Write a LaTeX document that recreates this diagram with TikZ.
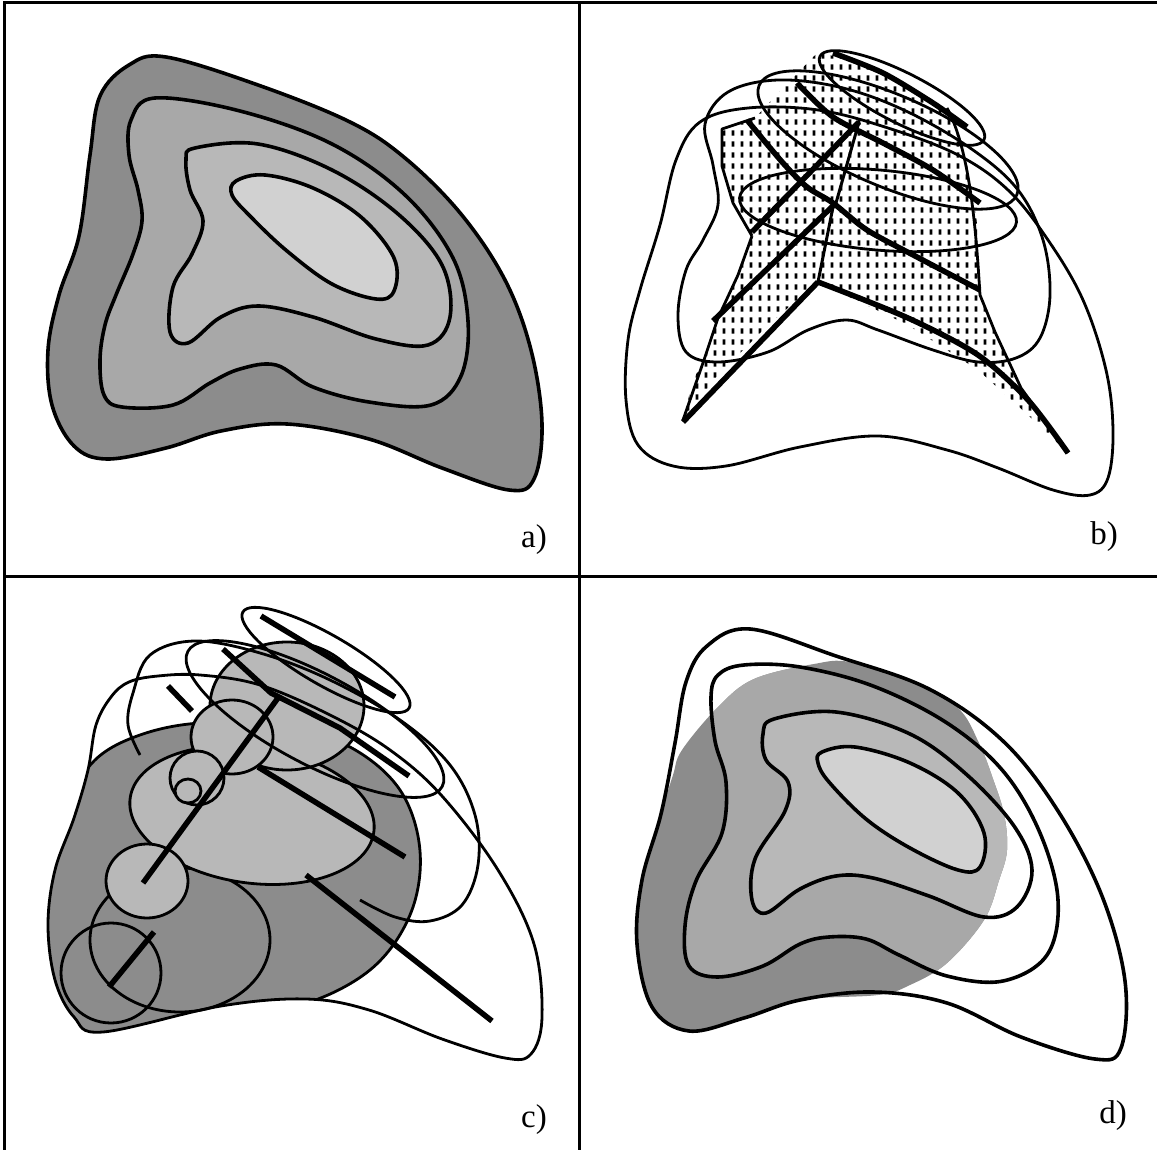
\documentclass[tikz,border=0pt]{standalone}
\usepackage{fontspec}
\setmainfont{Liberation Serif}
\usetikzlibrary{patterns}
\pgfdeclarepatternformonly{vdash}{\pgfpointorigin}{\pgfpoint{9pt}{10.5pt}}{\pgfpoint{9pt}{10.5pt}}{%
  \pgfpathrectangle{\pgfpoint{3pt}{2.5pt}}{\pgfpoint{3pt}{5.5pt}}\pgfusepath{fill}}
\definecolor{gdark}{gray}{0.55}
\definecolor{gmed}{gray}{0.66}
\definecolor{glight}{gray}{0.72}
\definecolor{glite}{gray}{0.82}
\tikzset{
  cont/.style={line width=3.6pt, line join=round},
  outl/.style={line width=2.8pt, line join=round},
  skel/.style={line width=5.5pt},
  skelthin/.style={line width=3pt},
  lab/.style={font=\fontsize{33}{34}\selectfont, inner sep=0pt},
  gridline/.style={line width=3pt},
  sm/.style={smooth cycle, tension=0.6}
}
\newcommand{\myell}[6][]{\path[#1,shift={(#2,#3)},rotate=#6] (0,0) ellipse (#4 and #5);}
% panel a contours
\def\Aone{plot[sm] coordinates {(166,57) (258,85) (350,122) (405,158) (461,214) (505,280) (531,350) (542,424) (534,479) (509,490) (442,468) (369,439) (287,424) (221,431) (166,448) (107,459) (74,446) (52,405) (48,350) (59,295) (79,236) (90,155) (100,96) (129,65)}}
\def\Atwo{plot[sm] coordinates {(155,98) (240,111) (332,144) (405,195) (453,258) (468,321) (461,376) (431,405) (369,402) (313,387) (276,365) (240,369) (210,383) (173,405) (122,407) (104,395) (100,360) (105,325) (116,295) (133,254) (142,221) (138,190) (129,155) (131,120)}}
\def\Athree{plot[sm] coordinates {(195,148) (258,144) (332,170) (398,214) (442,265) (450,317) (428,345) (376,339) (313,317) (258,306) (221,317) (188,343) (170,332) (173,287) (192,254) (203,221) (190,190) (186,160)}}
\def\Afour{plot[sm] coordinates {(236,181) (265,175) (313,188) (361,217) (394,258) (394,291) (376,299) (332,284) (287,251) (251,217) (232,195)}}
% panel d contours
\def\Done{plot[sm] coordinates {(172,54) (258,81) (351,114) (425,166) (480,236) (524,321) (547,406) (543,473) (517,484) (443,462) (369,428) (295,417) (222,425) (166,443) (111,456) (74,432) (59,369) (64,305) (83,239) (97,168) (108,107) (129,71)}}
\def\Dshade{plot[sm] coordinates {(104,175) (140,132) (176,104) (236,89) (272,87) (330,105) (379,132) (401,168) (415,204) (426,239) (429,275) (421,305) (406,345) (369,388) (332,410) (300,420) (222,425) (166,443) (111,456) (74,432) (59,369) (64,305) (83,239) (95,200)}}
\def\Dtwo{plot[sm] coordinates {(166,90) (222,92) (295,111) (369,148) (425,196) (462,258) (480,325) (469,380) (425,406) (369,401) (321,380) (288,364) (251,362) (222,369) (185,391) (140,402) (111,391) (107,351) (118,306) (144,258) (148,207) (137,166) (133,122) (140,100)}}
\def\Dthree{plot[sm] coordinates {(196,144) (258,137) (332,159) (388,199) (436,251) (454,295) (439,332) (406,342) (351,321) (295,303) (258,301) (222,314) (188,338) (174,325) (177,284) (207,236) (210,207) (188,185) (185,159)}}
\def\Dfour{plot[sm] coordinates {(244,177) (277,172) (332,188) (380,218) (406,258) (402,292) (380,295) (332,273) (288,244) (251,207) (240,188)}}
% panel c
\def\Cone{plot[sm] coordinates {(158,101) (200,100) (260,110) (330,140) (390,175) (442,221) (498,295) (534,369) (542,442) (531,479) (505,483) (442,464) (369,435) (306,424) (221,431) (103,457) (74,442) (55,405) (48,350) (55,295) (74,243) (88,195) (96,150) (111,122) (129,107)}}
\def\Cdark{plot[sm] coordinates {(420,276) (410,340) (370,395) (300,430) (221,436) (103,462) (55,440) (42,380) (48,300) (68,230) (95,185) (140,160) (200,148) (280,150) (350,172) (400,215)}}
\begin{document}
\begin{tikzpicture}[x=1pt,y=-1pt]
\useasboundingbox (0,0) rectangle (1157,1150);
\fill[white] (0,0) rectangle (1157,1150);
% frame
\draw[gridline] (4,1150) -- (4,3) -- (1157,3);
\draw[gridline] (579,3) -- (579,1150);
\draw[gridline] (4,576) -- (1157,576);

% ---------------- panel a
\begin{scope}
\filldraw[fill=gdark, cont] \Aone;
\filldraw[fill=gmed, cont] \Atwo;
\filldraw[fill=glight, cont] \Athree;
\filldraw[fill=glite, cont] \Afour;
\node[lab] (la) at (534,540) {a)};
\end{scope}

% ---------------- panel b
\begin{scope}[shift={(578,0)}]
\draw[outl] plot[sm] coordinates {(122,122) (170,108) (240,110) (310,128) (380,155) (430,190) (470,240) (505,300) (528,370) (535,430) (530,478) (512,495) (475,490) (420,468) (369,450) (300,436) (222,447) (148,466) (95,466) (60,445) (48,400) (50,340) (62,290) (82,225) (98,160)};
\fill[pattern=vdash, rounded corners=6pt] (240,52) -- (300,68) -- (369,108) -- (388,159) -- (399,222) -- (402,295) -- (417,332) -- (443,388) -- (490,453) -- (450,415) -- (400,370) -- (330,325) -- (240,282) -- (190,325) -- (140,375) -- (105,420) -- (115,380) -- (126,360) -- (140,318) -- (160,275) -- (174,236) -- (155,203) -- (144,166) -- (144,129) -- (177,118) -- (205,88) -- cycle;
\draw[outl] (369,108) .. controls (392,150) and (398,230) .. (402,295) -- (417,332) -- (443,388) -- (490,453);
\draw[outl] (174,236) -- (155,203) -- (144,166) -- (144,129) -- (177,118);
\draw[outl] (105,420) -- (126,360) -- (140,318) -- (160,275) -- (174,236);
\draw[outl] plot[sm] coordinates {(127,124) (150,92) (200,80) (265,88) (330,112) (395,150) (440,190) (465,240) (472,295) (462,338) (438,358) (400,362) (355,350) (300,330) (268,320) (230,330) (190,352) (140,362) (108,352) (100,315) (108,270) (125,240) (140,205) (135,165)};
\myell[draw, outl]{324}{98}{92}{25}{-27}
\myell[draw, outl]{310}{140}{140}{46}{-23}
\myell[draw, outl]{300}{210}{139}{40}{-5}
% skeleton
\draw[skel] (105,422) -- (240,282);
\draw[skel] plot[smooth] coordinates {(240,282) (330,318) (400,355) (450,400) (490,453)};
\draw[skel] (135,321) -- (258,203);
\draw[skelthin] (258,203) -- (281,122);
\draw[skelthin] (255,207) -- (240,282);
\draw[skel] (281,122) -- (174,232);
\draw[skel] plot[smooth] coordinates {(169,120) (205,163) (229,187) (255,203) (289,230) (339,257) (402,290)};
\draw[skel] plot[smooth] coordinates {(219,83) (255,117) (305,143) (355,170) (402,203)};
\draw[skel] plot[smooth] coordinates {(255,53) (305,73) (355,103) (389,127)};
\node[lab] (lb) at (526,537) {b)};
\end{scope}

% ---------------- panel c
\begin{scope}[shift={(0,575)}]
\begin{scope}
\clip \Cone;
\filldraw[fill=gdark, outl] \Cdark;
\end{scope}
\draw[outl] (111,398) circle (50);
\draw[outl] (180,365) ellipse (90 and 72);
\myell[fill=glight, draw, outl]{252}{240}{123}{68}{-8}
\myell[fill=glight, draw, outl]{287}{131}{77}{64}{0}
\myell[fill=glight, draw, outl]{232}{162}{41}{37}{0}
\myell[fill=glight, draw, outl]{147}{306}{41}{37}{0}
\myell[fill=glight, draw, outl]{197}{203}{27}{27}{0}
\myell[fill=glight, draw, outl]{188}{216}{13}{12}{0}
\draw[outl] \Cone;
\draw[outl] plot[smooth, tension=0.6] coordinates {(360,325) (395,342) (430,346) (462,330) (478,290) (475,240) (450,190) (400,145) (330,105) (260,78) (195,66) (150,80) (133,118) (128,150) (140,180)};
\myell[draw, outl]{326}{85}{96}{25}{-30}
\myell[draw, outl]{315}{144}{144}{45}{-28}
% skeleton
\draw[skel] (261,41) -- (395,122);
\draw[skel] (168,111) -- (192,136);
\draw[skel] (223,74) -- (271,118) -- (340,153) -- (409,201);
\draw[skel] (258,192) -- (405,282);
\draw[skel] (306,300) -- (492,446);
\draw[skel] (143,308) -- (278,123);
\draw[skel] (109,412) -- (154,357);
\node[lab] (lc) at (534,545) {c)};
\end{scope}

% ---------------- panel d
\begin{scope}[shift={(578,575)}]
\fill[gdark] \Dshade;
\begin{scope}
\clip \Dshade;
\fill[gmed] \Dtwo;
\fill[glight] \Dthree;
\fill[glite] \Dfour;
\end{scope}
\draw[cont] \Done;
\draw[cont] \Dtwo;
\draw[cont] \Dthree;
\draw[cont] \Dfour;
\node[lab] (ld) at (535,541) {d)};
\end{scope}
\end{tikzpicture}
\end{document}
